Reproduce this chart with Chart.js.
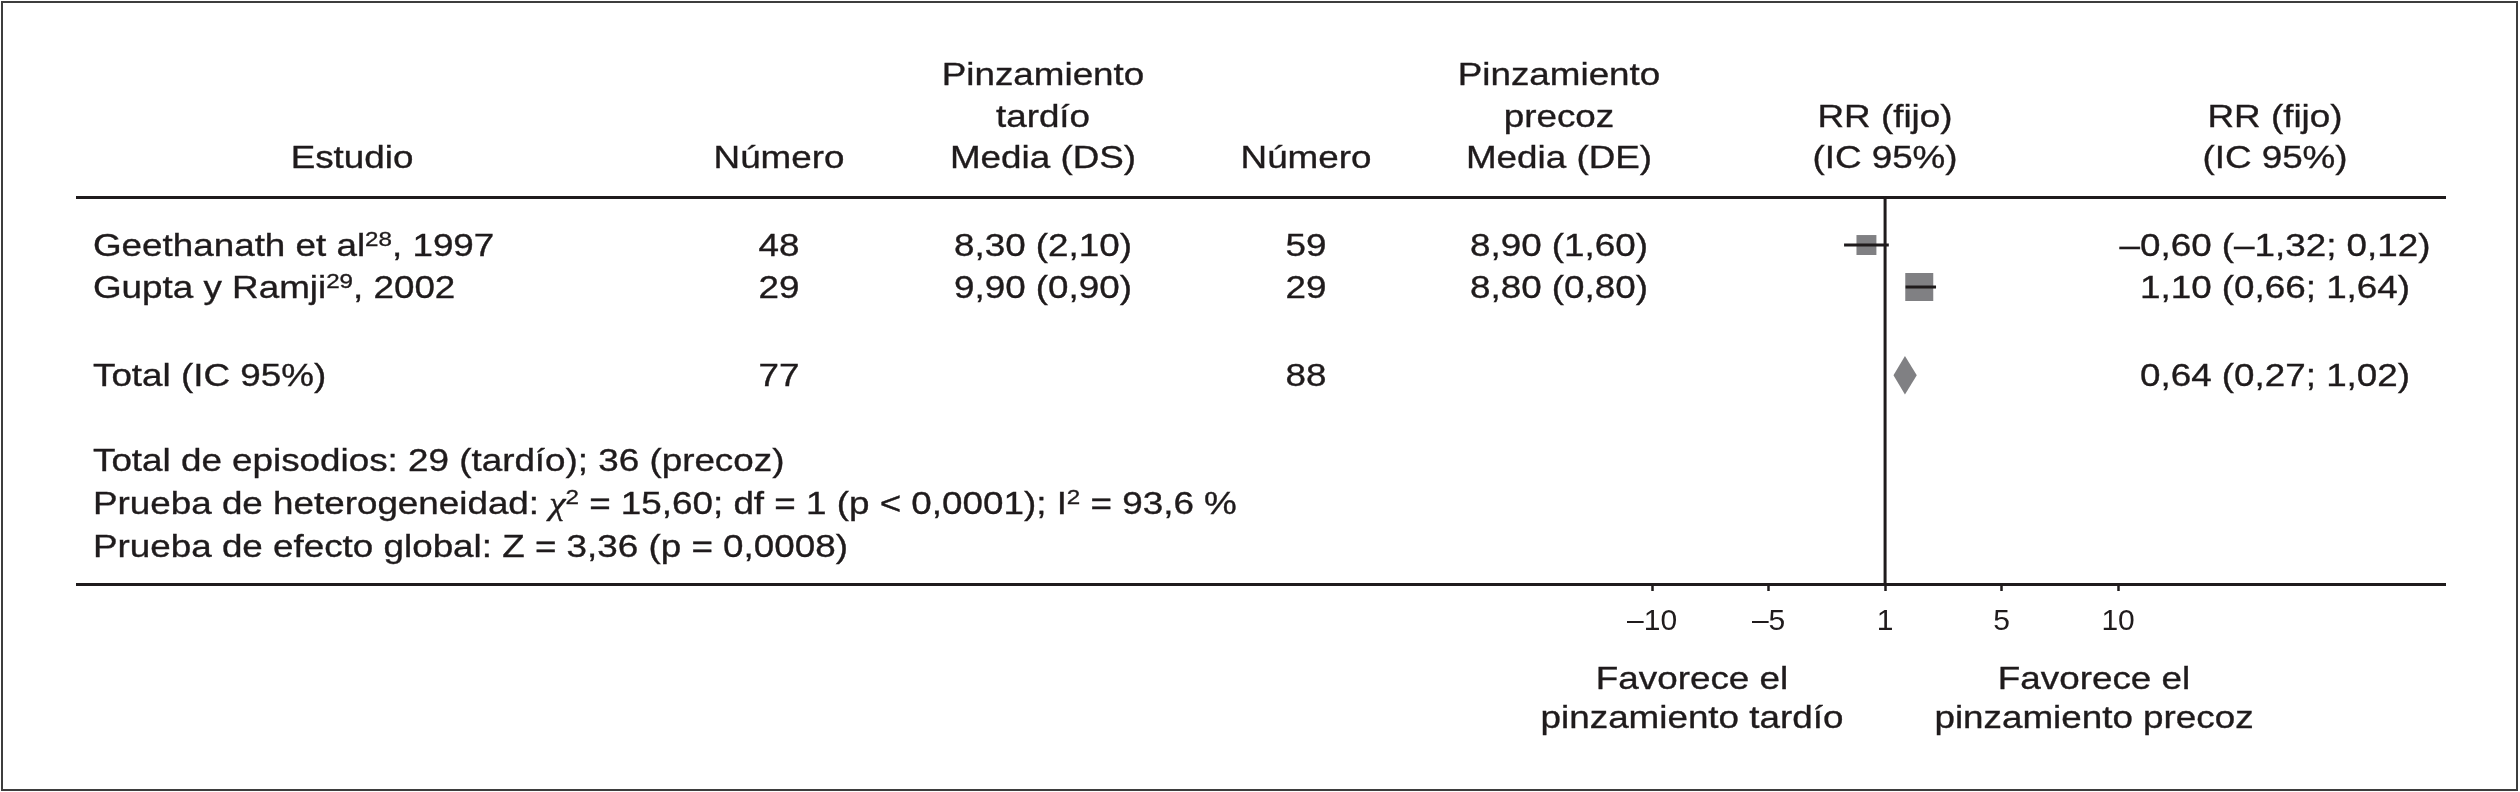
<!DOCTYPE html>
<html>
<head>
<meta charset="utf-8">
<script src="https://cdn.jsdelivr.net/npm/chart.js@4.4.0/dist/chart.umd.min.js"></script>
<style>
    body { margin: 0; background: #fff; }
    #wrap { position: relative; width: 2520px; height: 792px; overflow: hidden;
            font-family: "Liberation Sans", Arial, Helvetica, sans-serif; color: #1f1b1c; }
    #frame { position: absolute; left: 1px; top: 1px; width: 2517px; height: 790px;
             border: 2px solid #3d3d3d; box-sizing: border-box; }
    #chart { position: absolute; left: 0; top: 0; }
    .t { position: absolute; font-size: 32px; line-height: 36px; white-space: nowrap;
         -webkit-text-stroke: 0.35px #1f1b1c; }
    .sup { font-size: 21px; position: relative; top: -10px; }
    .chi { font-family: "Liberation Serif", "DejaVu Serif", serif; font-style: italic; }
</style>
</head>
<body>
<div id="wrap">
    <canvas id="chart" width="2520" height="792"></canvas>
    <div id="frame"></div>
</div>
<script>
(function () {

    // Data
    const studyNames = ['Geethanath et al', 'Gupta y Ramji'];
    const studyRefs = ['28', '29'];
    const studyYears = [1997, 2002];
    const nLate = [48, 29];
    const meanLate = [8.30, 9.90];
    const sdLate = [2.10, 0.90];
    const nEarly = [59, 29];
    const meanEarly = [8.90, 8.80];
    const sdEarly = [1.60, 0.80];
    const effect = [-0.60, 1.10];
    const ciLow = [-1.32, 0.66];
    const ciHigh = [0.12, 1.64];

    const totalN = [77, 88];
    const pooled = 0.64;
    const pooledLow = 0.27;
    const pooledHigh = 1.02;

    const events = [29, 36];
    const chi2 = 15.60;
    const dfHet = 1;
    const pHet = '< 0,0001';
    const i2 = 93.6;
    const zStat = 3.36;
    const pZ = '0,0008';

    const tickValues = [-7.5, -3.75, 0, 3.75, 7.5];
    const tickLabels = ['–10', '–5', '1', '5', '10'];

    // Layout
    const ink = '#1f1b1c';
    const grey = '#808083';
    const rowY = [1, 2, 4.1];      // study rows, then total row
    const yMin = -0.143, yMax = 9.07;
    const xMin = -58.19, xMax = 18.02;
    const diamondHalf = 0.46;
    const stretch = 1.15;

    function fmt(v, d) {
        return v.toFixed(d === undefined ? 2 : d).replace('.', ',').replace('-', '–');
    }

    // CI whiskers drawn on top of the boxes
    const ciSets = effect.map((e, i) => ({
        data: [{ x: ciLow[i], y: rowY[i] }, { x: ciHigh[i], y: rowY[i] }],
        showLine: true,
        borderColor: ink,
        borderWidth: 3,
        pointRadius: 0,
        order: 1
    }));

    const chart = new Chart(document.getElementById('chart').getContext('2d'), {
        type: 'scatter',
        data: {
            datasets: [
                {
                    // line of no effect
                    data: [{ x: 0, y: yMin }, { x: 0, y: yMax }],
                    showLine: true,
                    borderColor: ink,
                    borderWidth: 3,
                    pointRadius: 0,
                    order: 0
                },
                ...ciSets,
                {
                    data: effect.map((e, i) => ({ x: e, y: rowY[i] })),
                    pointStyle: 'rect',
                    pointRadius: [14.1, 19.8],
                    backgroundColor: grey,
                    borderWidth: 0,
                    order: 2
                },
                {
                    data: [
                        { x: pooledLow, y: rowY[2] },
                        { x: pooled, y: rowY[2] - diamondHalf },
                        { x: pooledHigh, y: rowY[2] },
                        { x: pooled, y: rowY[2] + diamondHalf },
                        { x: pooledLow, y: rowY[2] }
                    ],
                    showLine: true,
                    fill: 'shape',
                    backgroundColor: grey,
                    borderWidth: 0,
                    pointRadius: 0,
                    order: 2
                }
            ]
        },
        options: {
            responsive: false,
            animation: false,
            events: [],
            layout: { padding: { left: 77, right: 75, top: 197, bottom: 148 } },
            plugins: { legend: { display: false }, tooltip: { enabled: false } },
            scales: {
                x: {
                    type: 'linear',
                    position: 'bottom',
                    min: xMin,
                    max: xMax,
                    afterBuildTicks: s => { s.ticks = tickValues.map(v => ({ value: v })); },
                    afterFit: s => { s.height = 60; },
                    border: { display: true, width: 3, color: ink },
                    grid: { display: true, drawOnChartArea: false, drawTicks: true,
                            tickLength: 7, tickWidth: 2.5, tickColor: ink },
                    ticks: {
                        autoSkip: false,
                        maxRotation: 0,
                        padding: 13,
                        color: ink,
                        font: { family: '"Liberation Sans", Arial, sans-serif', size: 30 },
                        callback: (v, i) => tickLabels[i]
                    }
                },
                x2: {
                    type: 'linear',
                    position: 'top',
                    min: xMin,
                    max: xMax,
                    afterFit: s => { s.height = 0; },
                    border: { display: true, width: 3, color: ink },
                    grid: { display: true, drawOnChartArea: false, drawTicks: false },
                    ticks: { display: false }
                },
                y: {
                    type: 'linear',
                    display: false,
                    reverse: true,
                    min: yMin,
                    max: yMax
                }
            }
        }
    });

    // Table text
    const wrap = document.getElementById('wrap');

    function place(html, x, y, align) {
        const el = document.createElement('div');
        el.className = 't';
        el.innerHTML = html;
        el.style.top = (y - 18) + 'px';
        el.style.left = x + 'px';
        if (align === 'left') {
            el.style.transformOrigin = 'left center';
            el.style.transform = 'scaleX(' + stretch + ')';
        } else {
            el.style.transform = 'translateX(-50%) scaleX(' + stretch + ')';
        }
        wrap.appendChild(el);
    }

    const ys = chart.scales.y;
    const xs = chart.scales.x;
    const colStudy = 93, colN1 = 779, colM1 = 1043, colN2 = 1306, colM2 = 1559, colRR = 2275;
    const colPlot = xs.getPixelForValue(0);
    const head = [74, 116, 157];

    place('Estudio', 352, head[2]);
    place('Número', colN1, head[2]);
    place('Pinzamiento', colM1, head[0]);
    place('tardío', colM1, head[1]);
    place('Media (DS)', colM1, head[2]);
    place('Número', colN2, head[2]);
    place('Pinzamiento', colM2, head[0]);
    place('precoz', colM2, head[1]);
    place('Media (DE)', colM2, head[2]);
    place('RR (fijo)', colPlot, head[1]);
    place('(IC 95%)', colPlot, head[2]);
    place('RR (fijo)', colRR, head[1]);
    place('(IC 95%)', colRR, head[2]);

    studyNames.forEach((name, i) => {
        const y = ys.getPixelForValue(rowY[i]);
        place(name + '<span class="sup">' + studyRefs[i] + '</span>, ' + studyYears[i], colStudy, y, 'left');
        place(String(nLate[i]), colN1, y);
        place(fmt(meanLate[i]) + ' (' + fmt(sdLate[i]) + ')', colM1, y);
        place(String(nEarly[i]), colN2, y);
        place(fmt(meanEarly[i]) + ' (' + fmt(sdEarly[i]) + ')', colM2, y);
        place(fmt(effect[i]) + ' (' + fmt(ciLow[i]) + '; ' + fmt(ciHigh[i]) + ')', colRR, y);
    });

    const yTot = ys.getPixelForValue(rowY[2]);
    place('Total (IC 95%)', colStudy, yTot, 'left');
    place(String(totalN[0]), colN1, yTot);
    place(String(totalN[1]), colN2, yTot);
    place(fmt(pooled) + ' (' + fmt(pooledLow) + '; ' + fmt(pooledHigh) + ')', colRR, yTot);

    place('Total de episodios: ' + events[0] + ' (tardío); ' + events[1] + ' (precoz)', colStudy, 460, 'left');
    place('Prueba de heterogeneidad: <span class="chi">χ</span><span class="sup">2</span> = ' + fmt(chi2) +
          '; df = ' + dfHet + ' (p ' + pHet + '); I<span class="sup">2</span> = ' + fmt(i2, 1) + ' %',
          colStudy, 503, 'left');
    place('Prueba de efecto global: Z = ' + fmt(zStat) + ' (p = ' + pZ + ')', colStudy, 546, 'left');

    place('Favorece el', 1692, 678);
    place('pinzamiento tardío', 1692, 717);
    place('Favorece el', 2094, 678);
    place('pinzamiento precoz', 2094, 717);

})();
</script>
</body>
</html>
